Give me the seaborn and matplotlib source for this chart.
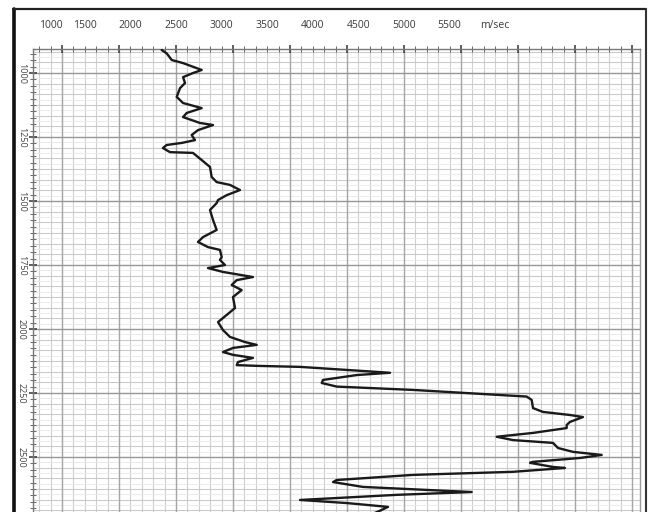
import matplotlib
matplotlib.use("Agg")
import matplotlib.pyplot as plt
import seaborn as sns
import numpy as np
from matplotlib.ticker import MultipleLocator, NullFormatter
from matplotlib.lines import Line2D

# interval velocity log (m/sec vs depth)
depth = [910, 923, 949, 961, 988, 1000, 1016, 1039, 1059, 1093,
         1117, 1137, 1156, 1172, 1195, 1203, 1223, 1242, 1262, 1273,
         1281, 1293, 1309, 1312, 1340, 1367, 1406, 1426, 1437, 1457,
         1477, 1496, 1508, 1535, 1574, 1613, 1641, 1660, 1680, 1691,
         1719, 1730, 1750, 1762, 1777, 1797, 1809, 1828, 1848, 1875,
         1918, 1945, 1973, 2004, 2031, 2051, 2062, 2074, 2090, 2101,
         2113, 2129, 2141, 2144, 2148, 2171, 2180, 2199, 2211, 2225,
         2238, 2264, 2277, 2309, 2324, 2336, 2344, 2363, 2375, 2387,
         2406, 2421, 2434, 2445, 2465, 2480, 2492, 2504, 2519, 2523,
         2539, 2543, 2558, 2570, 2590, 2598, 2617, 2637, 2648, 2668,
         2680, 2695, 2710, 2723]
velocity = [2343, 2398, 2453, 2577, 2782, 2686, 2577, 2599, 2544, 2508,
            2577, 2782, 2617, 2577, 2763, 2906, 2741, 2672, 2708, 2563,
            2398, 2357, 2434, 2686, 2782, 2873, 2891, 2946, 3092, 3202,
            3056, 2961, 2946, 2873, 2906, 2946, 2796, 2741, 2851, 2982,
            3001, 2982, 3037, 2851, 3015, 3344, 3166, 3111, 3220, 3125,
            3147, 3056, 2961, 3015, 3092, 3257, 3385, 3125, 3015, 3125,
            3344, 3180, 3166, 3385, 3860, 4847, 4481, 4112, 4098, 4262,
            5099, 6345, 6400, 6415, 6524, 6820, 6963, 6820, 6784, 6784,
            6415, 6016, 6195, 6634, 6689, 6853, 7168, 6930, 6415, 6382,
            6634, 6765, 6195, 5099, 4262, 4222, 4550, 5742, 4920, 3860,
            4372, 4825, 4737, 4650]

x_tick_values = [1000, 1500, 2000, 2500, 3000, 3500, 4000, 4500, 5000, 5500, 6000]
x_tick_labels = ['1000', '1500', '2000', '2500', '3000', '3500', '4000',
                 '4500', '5000', '5500', 'm/sec']
y_tick_values = [1000, 1250, 1500, 1750, 2000, 2250, 2500]
y_tick_labels = ['1000', '1250', '1500', '1750', '2000', '2250', '2500']

sns.set_theme(style="white")
plt.rcParams['font.family'] = ['Open Sans', 'DejaVu Sans']

fig = plt.figure(figsize=(6.55, 5.12), dpi=100)
fig.patch.set_facecolor('white')
ax = fig.add_axes([33 / 655, 0, 607 / 655, 463 / 512])
ax.set_facecolor('white')

x_min, x_max = 932, 7588
d_top, d_bot = 906, 2715

# chart-paper grid
for v in np.arange(1000, x_max, 125):
    ax.axvline(v, color='#cfcfcf', lw=0.8, zorder=0)
for v in np.arange(1250, x_max, 625):
    ax.axvline(v, color='#a6a6a6', lw=1.0, zorder=0.5)
for d in np.arange(750, d_bot, 250 / 12):
    if d > d_top:
        ax.axhline(d, color='#e8e8e8', lw=0.6, zorder=0)
for d in np.arange(750, d_bot, 250 / 6):
    if d > d_top:
        ax.axhline(d, color='#cbcbcb', lw=0.8, zorder=0.2)
for d in np.arange(1000, d_bot, 250):
    ax.axhline(d, color='#999999', lw=1.0, zorder=0.5)

sns.lineplot(x=velocity, y=depth, sort=False, estimator=None, ax=ax,
             color='#1a1a1a', linewidth=1.7, zorder=3)
for ln in ax.lines[-1:]:
    ln.set_solid_joinstyle('round')
    ln.set_solid_capstyle('round')

ax.set_xlim(x_min, x_max)
ax.set_ylim(d_bot, d_top)
ax.set_xlabel('')
ax.set_ylabel('')

# x ticks (top, unlabeled) + labels on a secondary axis
ax.xaxis.tick_top()
ax.xaxis.set_major_locator(MultipleLocator(625))
ax.xaxis.set_minor_locator(MultipleLocator(125))
ax.xaxis.set_major_formatter(NullFormatter())
ax.tick_params(axis='x', which='major', direction='inout', length=6, width=1.2,
               color='#444444', top=True, bottom=False)
ax.tick_params(axis='x', which='minor', direction='inout', length=4, width=0.7,
               color='#666666', top=True, bottom=False)

sec = ax.secondary_xaxis('top')
sec.set_xticks(x_tick_values, labels=x_tick_labels)
sec.tick_params(length=0, pad=13, labelsize=7.5, labelcolor='#3a3a3a')
for s in sec.spines.values():
    s.set_visible(False)
sec.get_xticklabels()[0].set_ha('left')

# y ticks with rotated labels
ax.set_yticks(y_tick_values, labels=y_tick_labels)
ax.yaxis.set_minor_locator(MultipleLocator(25))
ax.tick_params(axis='y', which='major', direction='inout', length=6, width=1.2,
               color='#444444', pad=2, labelsize=6.5, labelcolor='#444444',
               left=True)
ax.tick_params(axis='y', which='minor', direction='inout', length=4, width=0.7,
               color='#666666', left=True)
for lab in ax.get_yticklabels():
    lab.set_rotation(270)
    lab.set_va('center')

ax.spines['left'].set_color('#777777')
ax.spines['top'].set_color('#777777')
ax.spines['right'].set_color('#999999')
ax.spines['bottom'].set_visible(False)
for s in ('left', 'top', 'right'):
    ax.spines[s].set_linewidth(1.0)

# outer scan frame
fig.add_artist(Line2D([14 / 655, 14 / 655], [0, 1 - 8.5 / 512], transform=fig.transFigure,
                      color='#111111', lw=2.6))
fig.add_artist(Line2D([13 / 655, 646 / 655], [1 - 9 / 512, 1 - 9 / 512],
                      transform=fig.transFigure, color='#222222', lw=1.6))
fig.add_artist(Line2D([646 / 655, 646 / 655], [0, 1 - 9 / 512], transform=fig.transFigure,
                      color='#333333', lw=1.5))

fig.savefig('out.png', dpi=100)
